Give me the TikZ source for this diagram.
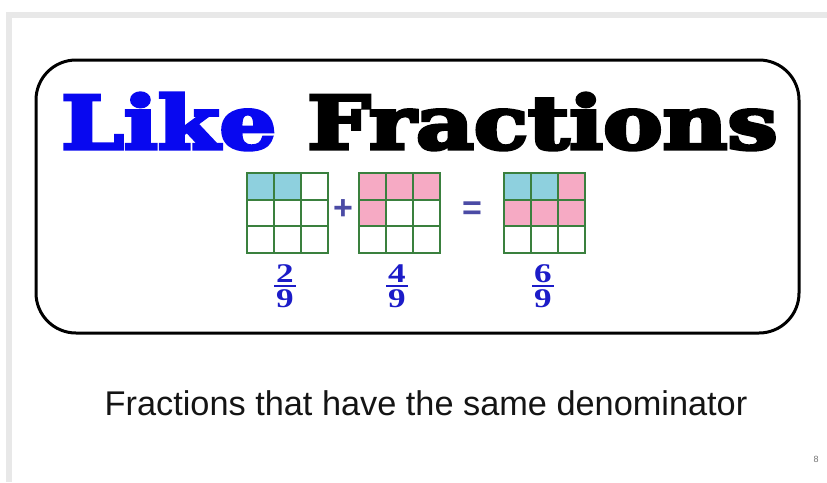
\documentclass[tikz,border=0pt]{standalone}
\usepackage{fontspec}
\setmainfont{Liberation Sans}
\newfontfamily\titlefont{DejaVu Serif}[BoldFeatures={FakeBold=4.5}]
\newfontfamily\fracfont{Liberation Serif}
\definecolor{framegray}{RGB}{232,232,232}
\definecolor{likeblue}{RGB}{8,8,240}
\definecolor{gridgreen}{RGB}{58,128,62}
\definecolor{cellblue}{RGB}{142,208,222}
\definecolor{cellpink}{RGB}{246,170,196}
\definecolor{fracblue}{RGB}{28,28,200}
\definecolor{opblue}{RGB}{75,75,165}
\definecolor{subtext}{RGB}{20,20,20}
\tikzset{
  gridline/.style={draw=gridgreen, line width=2pt, line cap=rect},
  bluecell/.style={fill=cellblue},
  pinkcell/.style={fill=cellpink},
  fracdigit/.style={inner sep=0pt, text=fracblue, font=\fracfont\bfseries\fontsize{27}{29}\selectfont},
  fracbar/.style={draw=fracblue, line width=2.6pt},
  opsign/.style={inner sep=0pt, text=opblue, font=\bfseries\fontsize{34}{36}\selectfont},
  framebox/.style={draw=black, line width=3pt, rounded corners=40pt},
}
\begin{document}
\begin{tikzpicture}[x=1pt,y=-1pt]
\useasboundingbox (0,0) rectangle (827,482);
\fill[white] (0,0) rectangle (827,482);
% slide frame
\fill[framegray] (6,12) rectangle (827,18);
\fill[framegray] (6,12) rectangle (12,482);
% rounded box
\draw[framebox] (36,60) rectangle (799,333);
% title
\node[anchor=base west, inner sep=0pt] (title) at (61,149)
  {\resizebox{716pt}{56pt}{\titlefont\bfseries\textcolor{likeblue}{Like} Fractions}};
% grids
\foreach \gx/\cx/\cy/\st in {247/0/0/bluecell, 247/1/0/bluecell,
   359/0/0/pinkcell, 359/1/0/pinkcell, 359/2/0/pinkcell, 359/0/1/pinkcell,
   504/0/0/bluecell, 504/1/0/bluecell, 504/2/0/pinkcell,
   504/0/1/pinkcell, 504/1/1/pinkcell, 504/2/1/pinkcell}
  {\path[\st] (\gx+\cx*27,173+\cy*26.667) rectangle ++(27,26.667);}
\foreach \gx in {247,359,504}{
  \foreach \i in {0,1,2,3}{
    \draw[gridline] (\gx+\i*27,173) -- (\gx+\i*27,253);
    \draw[gridline] (\gx,173+\i*26.667) -- (\gx+81,173+\i*26.667);
  }
}
% operators
\node[opsign] (plus) at (343,210) {+};
\node[opsign] (equals) at (472,211) {=};
% fractions
\node[fracdigit] (n1) at (285,274) {\scalebox{1.3}[1]{2}};
\node[fracdigit] (d1) at (285,299) {\scalebox{1.3}[1]{9}};
\coordinate (b1l) at (274,286); \coordinate (b1r) at (296,286);
\draw[fracbar] (b1l) -- (b1r);
\node[fracdigit] (n2) at (397,274) {\scalebox{1.3}[1]{4}};
\node[fracdigit] (d2) at (397,299) {\scalebox{1.3}[1]{9}};
\coordinate (b2l) at (386,286); \coordinate (b2r) at (408,286);
\draw[fracbar] (b2l) -- (b2r);
\node[fracdigit] (n3) at (543,274) {\scalebox{1.3}[1]{6}};
\node[fracdigit] (d3) at (543,299) {\scalebox{1.3}[1]{9}};
\coordinate (b3l) at (532,286); \coordinate (b3r) at (554,286);
\draw[fracbar] (b3l) -- (b3r);
% subtitle
\node[anchor=base, inner sep=0pt, text=subtext, font=\fontsize{34.3}{40}\selectfont] (sub) at (426,415)
  {Fractions that have the same denominator};
% page number
\node[anchor=base, inner sep=0pt, text=black!55, font=\fontsize{9}{10}\selectfont] (page) at (816,462) {8};
\end{tikzpicture}
\end{document}
